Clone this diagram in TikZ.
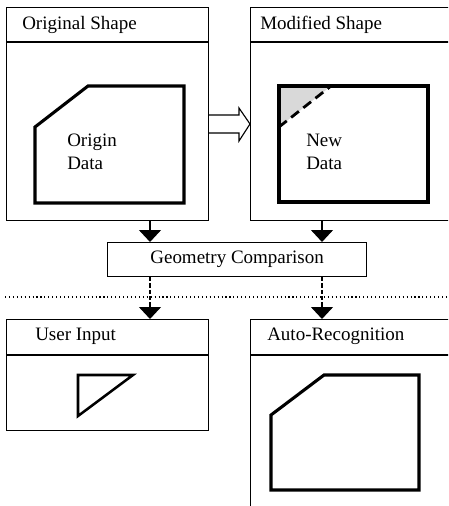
\documentclass[tikz,border=0pt]{standalone}
\usepackage{fontspec}
\setmainfont{Liberation Serif}
\usetikzlibrary{positioning, arrows.meta}

\begin{document}
\begin{tikzpicture}[
                x=0.025cm, y=-0.025cm,
                font=\fontsize{13.5}{16}\selectfont,
                panel/.style={
                        draw,
                        line width=0.8pt,
                        anchor=north west,
                        inner sep=0pt
                    },
                titletext/.style={anchor=west, inner sep=0pt},
                outline/.style={line width=2.2pt, line join=miter},
                arr/.style={-{Triangle[width=0.55cm, length=0.3cm]}, line width=1pt}
            ]

            \useasboundingbox (0,0) rectangle (448,506);
            \clip (0,0) rectangle (448,506);

            % boxes
            \node (orig) [panel, minimum width=5.05cm, minimum height=5.325cm] at (6,7) {};
            \node (mod) [panel, minimum width=5.5cm, minimum height=5.325cm] at (250,7) {};
            \node (geo) [panel, minimum width=6.475cm, minimum height=0.85cm] at (107,242) {};
            \node (user) [panel, minimum width=5.05cm, minimum height=2.775cm] at (6,319) {};
            \node (auto) [panel, minimum width=5.5cm, minimum height=5.275cm] at (250,319) {};

            % header lines
            \draw[line width=0.8pt] (orig.west |- 0,42) -- (orig.east |- 0,42);
            \draw[line width=0.8pt] (mod.west |- 0,42) -- (mod.east |- 0,42);
            \draw[line width=0.8pt] (user.west |- 0,355) -- (user.east |- 0,355);
            \draw[line width=0.8pt] (auto.west |- 0,355) -- (auto.east |- 0,355);

            % titles
            \node (t1) [titletext] at (22,25) {Original Shape};
            \node (t2) [titletext] at (260,25) {Modified Shape};
            \node (t3) [titletext] at (35,336) {User Input};
            \node (t4) [titletext] at (267,336) {Auto-Recognition};
            \node (t5) at (geo.center) {Geometry Comparison};

            % shapes
            \draw[outline] (35,127) -- (88,86) -- (184,86) -- (184,203) -- (35,203) -- cycle;
            \node (d1) [anchor=north west, inner sep=0pt, align=left] at (67,134) {Origin\\Data};

            \fill[gray!30] (279,86) -- (331,86) -- (279,127) -- cycle;
            \draw[outline] (279,86) rectangle (428,202);
            \draw[line width=2pt, dash pattern=on 7pt off 4pt] (279,127) -- (331,86);
            \node (d2) [anchor=north west, inner sep=0pt, align=left] at (306,134) {New\\Data};

            \draw[line width=1.8pt] (78,375) -- (133,375) -- (78,416) -- cycle;

            \draw[outline] (271,415) -- (324,375) -- (419,375) -- (419,490) -- (271,490) -- cycle;

            % hollow arrow
            \draw[line width=0.8pt, fill=white] (orig.east |- 0,115) -- (239,115) -- (239,108)
                -- (mod.west |- 0,124) -- (239,141) -- (239,133) -- (orig.east |- 0,133);

            % connectors
            \coordinate (c1) at (150,0);
            \coordinate (c2) at (322,0);
            \draw[arr] (orig.south -| c1) -- (geo.north -| c1);
            \draw[arr] (mod.south -| c2) -- (geo.north -| c2);
            \draw[arr, dash pattern=on 3pt off 1.5pt] (geo.south -| c1) -- (user.north -| c1);
            \draw[arr, dash pattern=on 3pt off 1.5pt] (geo.south -| c2) -- (auto.north -| c2);

            % divider
            \draw[line width=0.8pt, dotted] (5,297) -- (448,297);

        \end{tikzpicture}
\end{document}
